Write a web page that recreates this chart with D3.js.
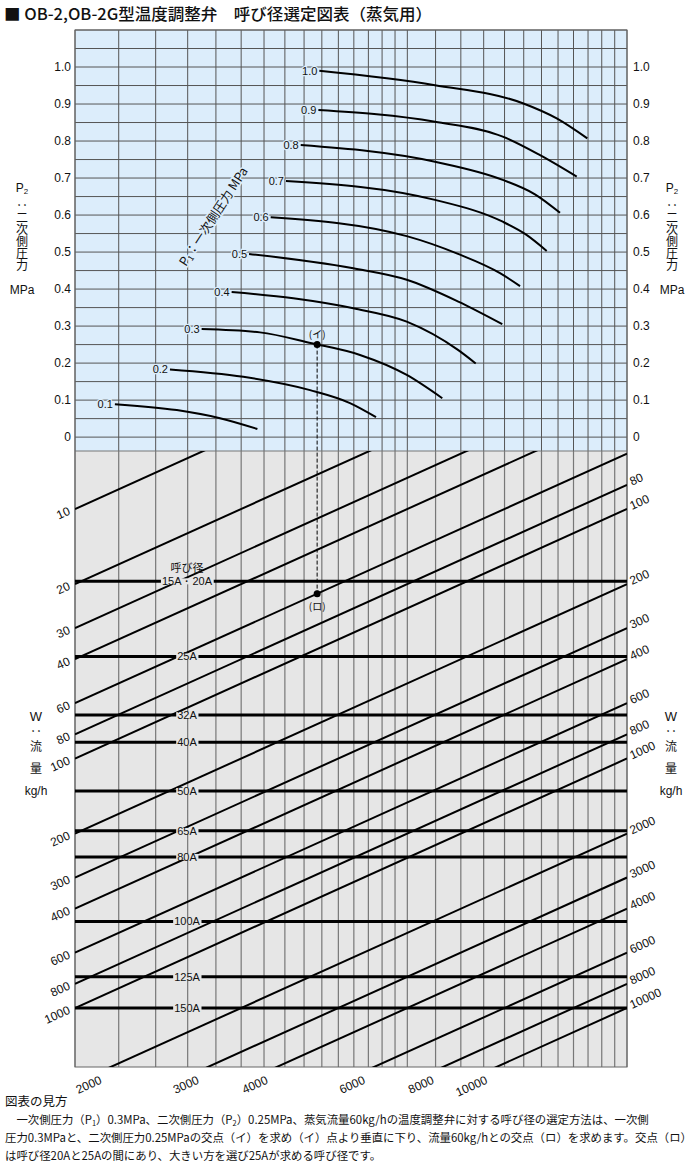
<!DOCTYPE html>
<html>
<head>
<meta charset="utf-8">
<script src="https://cdn.jsdelivr.net/npm/d3@7"></script>
<style>
  body { margin: 0; background: #fff; }
  svg text { font-family: "Liberation Sans", Arial, sans-serif; fill: #111; }
  svg text.jp { font-family: "Noto Sans CJK JP", sans-serif; }
  svg text.vert { writing-mode: vertical-rl; }
</style>
</head>
<body>
<svg id="chart" width="700" height="1170"></svg>
<script>
// ---- data ----
// vertical grid (log scale, one decade across the plot)
const gridV = [1, 1.2, 1.4, 1.6, 1.8, 2, 2.2, 2.4, 2.6, 2.8, 3, 3.2, 3.4, 3.6, 3.8, 4,
               4.5, 5, 5.5, 6, 6.5, 7, 7.5, 8, 8.5, 9, 9.5, 10];
const p2Ticks = [0, 0.1, 0.2, 0.3, 0.4, 0.5, 0.6, 0.7, 0.8, 0.9, 1.0];

// P1 curves: [x factor, P2 MPa]
const p1Values = [0.1, 0.2, 0.3, 0.4, 0.5, 0.6, 0.7, 0.8, 0.9, 1.0];
const p1Curves = [
  [[1.181, 0.089], [1.529, 0.073], [1.831, 0.051], [2.140, 0.022]],
  [[1.486, 0.183], [2.018, 0.163], [2.666, 0.127], [3.149, 0.092], [3.510, 0.054]],
  [[1.696, 0.292], [2.163, 0.283], [2.685, 0.2535], [3.283, 0.222], [3.990, 0.168], [4.628, 0.105]],
  [[1.922, 0.392], [2.486, 0.375], [3.193, 0.348], [3.990, 0.312], [4.948, 0.235], [5.320, 0.199]],
  [[2.067, 0.495], [3.193, 0.456], [3.990, 0.425], [4.948, 0.366], [5.944, 0.305]],
  [[2.262, 0.594], [3.990, 0.543], [4.942, 0.495], [5.888, 0.443], [6.401, 0.408]],
  [[2.411, 0.692], [4.489, 0.641], [5.955, 0.582], [6.536, 0.549], [7.154, 0.503]],
  [[2.564, 0.789], [4.489, 0.744], [5.955, 0.695], [6.812, 0.656], [7.562, 0.606]],
  [[2.760, 0.884], [4.489, 0.852], [5.955, 0.812], [6.958, 0.762], [8.108, 0.704]],
  [[2.771, 0.990], [4.489, 0.951], [6.474, 0.902], [7.459, 0.861], [8.474, 0.807]]
];

// flow lines W (kg/h)
const flowValues = [10, 20, 30, 40, 60, 80, 100, 200, 300, 400, 600, 800, 1000,
                    2000, 3000, 4000, 6000, 8000, 10000];
const flowLeftLabels = [10, 20, 30, 40, 60, 80, 100, 200, 300, 400, 600, 800, 1000];
const flowRightLabels = [80, 100, 200, 300, 400, 600, 800, 1000, 2000, 3000, 4000, 6000, 8000, 10000];
const flowBottomLabels = [2000, 3000, 4000, 6000, 8000, 10000];

// nominal sizes and their capacity (flow at x factor 1)
const sizeNames = ["15A・20A", "25A", "32A", "40A", "50A", "65A", "80A", "100A", "125A", "150A"];
const sizeCap = [19.5, 39, 67, 86, 135, 195, 248, 450, 750, 1000];

// worked example
const exP1 = 0.3, exP2 = 0.25, exW = 60;

// ---- layout ----
const L = 75, R = 627, T = 30, M = 451, B = 1067;
const BLUE = "#dcedfb", GREY = "#e6e6e6";
const svg = d3.select("#chart");

const x = d3.scaleLog().domain([1, 10]).range([L, R]);
const yP = d3.scaleLinear().domain([-0.0375, 1.1]).range([M, T]);
const yW = d3.scaleLog().domain([5.855, 1724]).range([M, B]);

// backgrounds
svg.append("rect").attr("x", L).attr("y", T).attr("width", R - L).attr("height", M - T)
  .attr("fill", BLUE);
svg.append("rect").attr("x", L).attr("y", M).attr("width", R - L).attr("height", B - M)
  .attr("fill", GREY);

// grid
const grid = svg.append("g");
grid.selectAll("line.vt").data(gridV).enter().append("line")
  .attr("x1", d => x(d)).attr("x2", d => x(d)).attr("y1", T).attr("y2", M)
  .attr("stroke", "#555").attr("stroke-width", 1);
grid.selectAll("line.vb").data(gridV).enter().append("line")
  .attr("x1", d => x(d)).attr("x2", d => x(d)).attr("y1", M).attr("y2", B)
  .attr("stroke", "#777").attr("stroke-width", 1.2);
grid.selectAll("line.h").data(d3.range(0, 23).map(i => i * 0.05)).enter().append("line")
  .attr("x1", L).attr("x2", R).attr("y1", d => yP(d)).attr("y2", d => yP(d))
  .attr("stroke", "#555").attr("stroke-width", 1);
grid.append("line").attr("x1", L).attr("x2", R).attr("y1", M).attr("y2", M)
  .attr("stroke", "#777");
grid.append("rect").attr("x", L).attr("y", T).attr("width", R - L).attr("height", B - T)
  .attr("fill", "none").attr("stroke", "#666");

// P2 tick labels
svg.selectAll("text.pl").data(p2Ticks).enter().append("text")
  .attr("x", L - 4).attr("y", d => yP(d) + 4).attr("text-anchor", "end")
  .attr("font-size", 12).text(d => d === 0 ? "0" : d.toFixed(1));
svg.selectAll("text.pr").data(p2Ticks).enter().append("text")
  .attr("x", R + 6).attr("y", d => yP(d) + 4)
  .attr("font-size", 12).text(d => d === 0 ? "0" : d.toFixed(1));

// P1 curves
const line = d3.line().x(d => x(d[0])).y(d => yP(d[1])).curve(d3.curveMonotoneX);
svg.append("g").selectAll("path").data(p1Curves).enter().append("path")
  .attr("d", line).attr("fill", "none").attr("stroke", "#000").attr("stroke-width", 2);
svg.append("g").selectAll("text").data(p1Values).enter().append("text")
  .attr("x", (d, i) => x(p1Curves[i][0][0]) - 2)
  .attr("y", (d, i) => yP(p1Curves[i][0][1]) + 4)
  .attr("text-anchor", "end").attr("font-size", 11)
  .attr("stroke", BLUE).attr("stroke-width", 2.5).attr("paint-order", "stroke")
  .text(d => d.toFixed(1));

// rotated P1 label
const p1Lab = svg.append("text").attr("class", "jp")
  .attr("transform", "translate(186,267) rotate(-57)")
  .attr("font-size", 12.5).attr("stroke", BLUE).attr("stroke-width", 3)
  .attr("paint-order", "stroke");
p1Lab.append("tspan").text("P");
p1Lab.append("tspan").attr("font-size", 8).attr("dy", 2).text("1");
p1Lab.append("tspan").attr("dy", -2).text("：一次側圧力  MPa");

// flow lines (clipped to the lower panel)
svg.append("clipPath").attr("id", "low").append("rect")
  .attr("x", L).attr("y", M).attr("width", R - L).attr("height", B - M);
const flowG = svg.append("g").attr("clip-path", "url(#low)");
flowG.selectAll("line").data(flowValues).enter().append("line")
  .attr("x1", x(1)).attr("y1", d => yW(d))
  .attr("x2", x(10)).attr("y2", d => yW(d / 10))
  .attr("stroke", "#000").attr("stroke-width", 2);

// size lines
const sizeG = svg.append("g");
sizeG.selectAll("line").data(sizeCap).enter().append("line")
  .attr("x1", L).attr("x2", R).attr("y1", d => yW(d)).attr("y2", d => yW(d))
  .attr("stroke", "#000").attr("stroke-width", 3);
sizeNames.forEach((n, i) => {
  const g = sizeG.append("g");
  const t = g.append("text").attr("x", 187).attr("y", yW(sizeCap[i]) + 4)
    .attr("text-anchor", "middle").attr("font-size", 11).text(n);
  const bb = t.node().getBBox();
  g.insert("rect", "text").attr("x", bb.x - 1).attr("y", yW(sizeCap[i]) - 3)
    .attr("width", bb.width + 2).attr("height", 6).attr("fill", GREY);
});
sizeG.append("text").attr("class", "jp").attr("x", 187).attr("y", yW(sizeCap[0]) - 9)
  .attr("text-anchor", "middle").attr("font-size", 11).text("呼び径");

// flow labels
const ang = -Math.atan((yW(10) - yW(1)) / (x(10) - x(1))) * 180 / Math.PI;
svg.selectAll("text.fl").data(flowLeftLabels).enter().append("text")
  .attr("transform", d => `translate(${L - 4},${yW(d) + 5}) rotate(${ang})`)
  .attr("text-anchor", "end").attr("font-size", 12).text(d => d);
svg.selectAll("text.fr").data(flowRightLabels).enter().append("text")
  .attr("transform", d => `translate(${R + 5},${yW(d / 10) + 1}) rotate(${ang})`)
  .attr("font-size", 12).text(d => d);
const wBottom = yW.domain()[1];
svg.selectAll("text.fb").data(flowBottomLabels).enter().append("text")
  .attr("transform", d => `translate(${x(d / wBottom) - 8},${B + 16}) rotate(${ang})`)
  .attr("text-anchor", "end").attr("font-size", 12).text(d => d);

// worked example (イ)/(ロ)
const c3 = p1Curves[p1Values.indexOf(exP1)];
let exV = c3[0][0];
for (let i = 1; i < c3.length; i++) {
  const a = c3[i - 1], b = c3[i];
  if (a[1] >= exP2 && b[1] <= exP2) {
    const t = (a[1] - exP2) / (a[1] - b[1]);
    exV = Math.exp(Math.log(a[0]) + t * (Math.log(b[0]) - Math.log(a[0])));
    break;
  }
}
const exX = x(exV);
svg.append("line").attr("x1", exX).attr("x2", exX)
  .attr("y1", yP(exP2)).attr("y2", yW(exW / exV))
  .attr("stroke", "#000").attr("stroke-width", 1).attr("stroke-dasharray", "4,2");
svg.append("circle").attr("cx", exX).attr("cy", yP(exP2)).attr("r", 3.5).attr("fill", "#000");
svg.append("circle").attr("cx", exX).attr("cy", yW(exW / exV)).attr("r", 3.5).attr("fill", "#000");
svg.append("text").attr("class", "jp").attr("x", exX).attr("y", yP(exP2) - 7)
  .attr("text-anchor", "middle").attr("font-size", 10).text("(イ)");
svg.append("text").attr("class", "jp").attr("x", exX).attr("y", yW(exW / exV) + 16)
  .attr("text-anchor", "middle").attr("font-size", 10).text("(ロ)");

// side axis titles: symbol on top, vertical Japanese text, unit below
function sideTitle(cx, sym, sub, vert, unit) {
  const s = svg.append("text").attr("x", cx).attr("y", sym.y)
    .attr("text-anchor", "middle").attr("font-size", sym.size).text(sym.t);
  if (sub) s.append("tspan").attr("font-size", 8).attr("dy", 2).text(sub);
  vert.forEach(v => {
    svg.append("text").attr("class", "jp vert").attr("x", cx).attr("y", v.y)
      .attr("font-size", 12).attr("letter-spacing", v.gap || 0).text(v.t);
  });
  svg.append("text").attr("x", cx).attr("y", unit.y)
    .attr("text-anchor", "middle").attr("font-size", 12).text(unit.t);
}
[22, 672].forEach(cx => {
  sideTitle(cx, { t: "P", y: 192, size: 12 }, "2",
    [{ t: "：二次側圧力", y: 199 }], { t: "MPa", y: 294 });
});
[36, 671].forEach(cx => {
  sideTitle(cx, { t: "W", y: 721, size: 13 }, null,
    [{ t: "：流", y: 725, gap: 3 }, { t: "量", y: 762 }], { t: "kg/h", y: 795 });
});

// title
svg.append("text").attr("class", "jp").attr("x", 4).attr("y", 20)
  .attr("font-size", 16).attr("font-weight", 500)
  .attr("textLength", 428).attr("lengthAdjust", "spacingAndGlyphs")
  .text("■ OB-2,OB-2G型温度調整弁　呼び径選定図表（蒸気用）");

// notes: font size chosen so the widest line fits the page
const notes = svg.append("g").attr("class", "notes");
notes.append("text").attr("class", "jp").attr("x", 5).attr("y", 1106)
  .attr("font-size", 12.5).text("図表の見方");
const n1 = notes.append("text").attr("class", "jp").attr("x", 5).attr("y", 1124);
n1.append("tspan").text("　一次側圧力（P");
n1.append("tspan").attr("class", "sub").attr("dy", 2).text("1");
n1.append("tspan").attr("dy", -2).text("）0.3MPa、二次側圧力（P");
n1.append("tspan").attr("class", "sub").attr("dy", 2).text("2");
n1.append("tspan").attr("dy", -2).text("）0.25MPa、蒸気流量60kg/hの温度調整弁に対する呼び径の選定方法は、一次側");
const n2 = notes.append("text").attr("class", "jp").attr("x", 5).attr("y", 1142)
  .text("圧力0.3MPaと、二次側圧力0.25MPaの交点（イ）を求め（イ）点より垂直に下り、流量60kg/hとの交点（ロ）を求めます。交点（ロ）");
const n3 = notes.append("text").attr("class", "jp").attr("x", 5).attr("y", 1160)
  .text("は呼び径20Aと25Aの間にあり、大きい方を選び25Aが求める呼び径です。");
[n1, n2, n3].forEach(t => t.attr("font-size", 12.5));
n1.selectAll("tspan.sub").attr("font-size", 8);
const w1 = n1.node().getComputedTextLength(), w2 = n2.node().getComputedTextLength();
const fs = Math.min(12.5, 12.5 * Math.min(688 / w1, 688 / w2));
[n1, n2, n3].forEach(t => t.attr("font-size", fs));
n1.selectAll("tspan.sub").attr("font-size", fs * 0.65);
</script>
</body>
</html>
